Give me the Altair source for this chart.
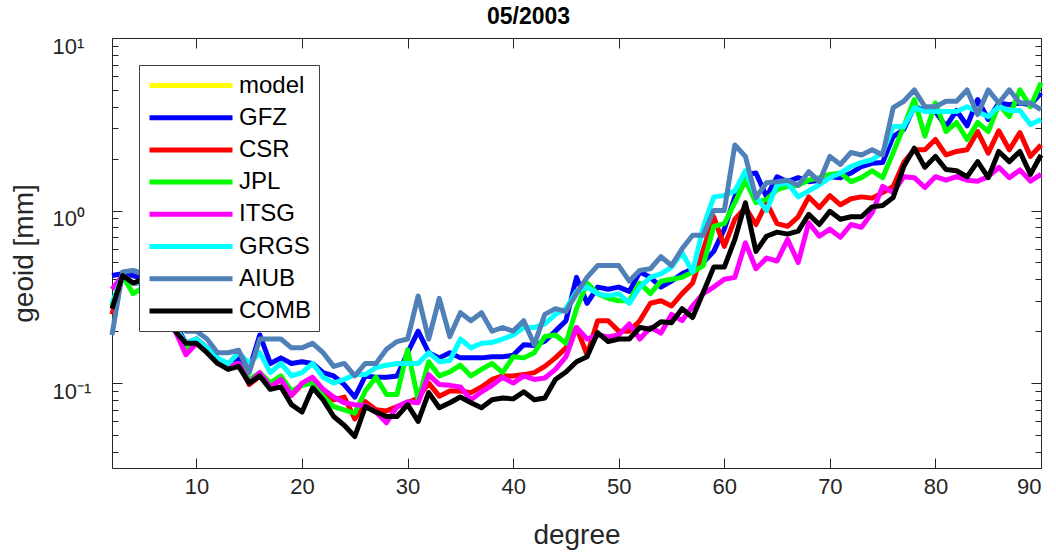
import altair as alt
import pandas as pd

degrees = list(range(2, 91))

gfz = [0.42, 0.43, 0.42, 0.40, 0.37, 0.30, 0.22, 0.17, 0.18, 0.16, 0.135, 0.13, 0.14, 0.12, 0.19, 0.13, 0.14, 0.13,
       0.133, 0.13, 0.115, 0.11, 0.098, 0.083, 0.11, 0.108, 0.108, 0.11, 0.15, 0.2, 0.15, 0.14, 0.15, 0.14, 0.14, 0.14,
       0.142, 0.142, 0.145, 0.167, 0.165, 0.175, 0.2, 0.23, 0.41, 0.29, 0.36, 0.35, 0.36, 0.34, 0.44, 0.41, 0.36, 0.39,
       0.43, 0.46, 0.5, 0.58, 0.78, 1.2, 1.62, 1.65, 1.2, 1.57, 1.47, 1.55, 1.47, 1.5, 1.57, 1.55, 1.65, 1.8, 1.88, 1.9,
       2.68, 2.95, 4.0, 3.8, 3.75, 3.07, 3.8, 3.1, 4.4, 3.37, 4.2, 4.1, 4.2, 4.1, 4.8]

csr = [0.25, 0.42, 0.38, 0.38, 0.36, 0.30, 0.21, 0.16, 0.18, 0.16, 0.135, 0.125, 0.13, 0.098, 0.11, 0.095, 0.105, 0.085,
       0.098, 0.1, 0.088, 0.08, 0.083, 0.062, 0.078, 0.07, 0.069, 0.073, 0.077, 0.082, 0.1, 0.084, 0.09, 0.09, 0.088, 0.095,
       0.105, 0.11, 0.11, 0.112, 0.115, 0.125, 0.14, 0.16, 0.21, 0.146, 0.23, 0.23, 0.2, 0.2, 0.23, 0.29, 0.3, 0.28,
       0.33, 0.38, 0.59, 0.92, 0.62, 0.89, 1.04, 0.83, 1.11, 0.84, 0.81, 0.92, 1.2, 1.04, 1.22, 1.08, 1.17, 1.2, 1.18, 1.27,
       1.38, 1.9, 2.25, 2.25, 2.58, 2.1, 2.2, 2.25, 2.87, 2.15, 2.9, 2.25, 2.83, 2.06, 2.4]

jpl = [0.28, 0.42, 0.33, 0.36, 0.35, 0.30, 0.21, 0.16, 0.18, 0.155, 0.135, 0.125, 0.13, 0.105, 0.115, 0.1, 0.11, 0.09,
       0.097, 0.1, 0.084, 0.073, 0.07, 0.067, 0.09, 0.108, 0.086, 0.086, 0.156, 0.08, 0.133, 0.11, 0.116, 0.127, 0.11, 0.12,
       0.13, 0.115, 0.142, 0.14, 0.15, 0.186, 0.19, 0.17, 0.27, 0.38, 0.33, 0.31, 0.3, 0.3, 0.38, 0.33, 0.39, 0.4,
       0.41, 0.44, 0.48, 0.81, 0.84, 1.11, 1.5, 1.11, 1.16, 1.32, 1.38, 1.4, 1.5, 1.55, 1.62, 1.65, 1.47, 1.55, 1.7, 1.55,
       2.17, 3.07, 4.4, 2.7, 4.2, 2.87, 3.24, 2.58, 3.24, 2.87, 4.1, 3.5, 5.0, 4.0, 5.5]

itsg = [0.35, 0.42, 0.38, 0.38, 0.36, 0.30, 0.2, 0.146, 0.17, 0.16, 0.13, 0.125, 0.13, 0.1, 0.115, 0.095, 0.105, 0.085,
        0.1, 0.108, 0.092, 0.083, 0.077, 0.075, 0.074, 0.068, 0.059, 0.073, 0.078, 0.077, 0.112, 0.098, 0.097, 0.095, 0.08, 0.089,
        0.097, 0.108, 0.1, 0.11, 0.105, 0.107, 0.12, 0.142, 0.21, 0.18, 0.19, 0.185, 0.19, 0.22, 0.18, 0.21, 0.195, 0.25,
        0.23, 0.28, 0.33, 0.36, 0.4, 0.41, 0.65, 0.46, 0.53, 0.51, 0.68, 0.5, 0.85, 0.71, 0.78, 0.70, 0.83, 0.80, 0.97, 1.38,
        1.27, 1.57, 1.55, 1.36, 1.57, 1.5, 1.57, 1.5, 1.48, 1.57, 1.78, 1.55, 1.72, 1.48, 1.62]

grgs = [0.29, 0.42, 0.38, 0.38, 0.36, 0.30, 0.21, 0.17, 0.18, 0.16, 0.14, 0.13, 0.15, 0.13, 0.15, 0.115, 0.13, 0.11,
        0.115, 0.13, 0.108, 0.1, 0.105, 0.112, 0.112, 0.123, 0.127, 0.13, 0.13, 0.13, 0.15, 0.133, 0.135, 0.18, 0.16, 0.17,
        0.172, 0.18, 0.19, 0.21, 0.21, 0.22, 0.25, 0.27, 0.34, 0.36, 0.33, 0.32, 0.33, 0.29, 0.36, 0.41, 0.43, 0.47,
        0.57, 0.44, 0.8, 1.2, 1.22, 1.3, 1.7, 1.2, 1.0, 1.41, 1.44, 1.2, 1.3, 1.41, 1.55, 1.65, 1.8, 1.9, 1.97, 2.17,
        3.07, 3.07, 3.95, 3.75, 3.75, 3.75, 3.75, 4.0, 3.75, 3.5, 4.0, 3.8, 3.8, 3.15, 3.37]

aiub = [0.19, 0.44, 0.45, 0.43, 0.40, 0.33, 0.23, 0.2, 0.2, 0.18, 0.15, 0.15, 0.155, 0.115, 0.18, 0.18, 0.18, 0.16,
        0.16, 0.17, 0.15, 0.125, 0.13, 0.11, 0.13, 0.13, 0.157, 0.174, 0.18, 0.32, 0.18, 0.31, 0.186, 0.256, 0.23, 0.256,
        0.2, 0.21, 0.2, 0.23, 0.167, 0.25, 0.27, 0.26, 0.33, 0.41, 0.48, 0.48, 0.48, 0.39, 0.45, 0.46, 0.54, 0.48,
        0.6, 0.72, 0.72, 1.0, 1.0, 2.4, 2.06, 1.19, 1.45, 1.47, 1.5, 1.4, 1.68, 1.47, 2.06, 1.85, 2.17, 2.1, 2.25, 2.1,
        3.95, 4.3, 5.0, 4.0, 4.0, 4.3, 4.3, 5.0, 3.6, 5.0, 4.2, 5.0, 4.2, 4.2, 3.85]

comb = [0.27, 0.42, 0.38, 0.40, 0.36, 0.30, 0.2, 0.17, 0.17, 0.15, 0.13, 0.12, 0.125, 0.1, 0.11, 0.092, 0.095, 0.075,
        0.068, 0.094, 0.08, 0.064, 0.057, 0.049, 0.073, 0.068, 0.064, 0.064, 0.075, 0.06, 0.088, 0.072, 0.077, 0.083, 0.077, 0.072,
        0.08, 0.082, 0.081, 0.089, 0.08, 0.082, 0.105, 0.116, 0.133, 0.142, 0.196, 0.174, 0.18, 0.18, 0.21, 0.205, 0.227, 0.224,
        0.27, 0.24, 0.335, 0.47, 0.47, 0.68, 1.11, 0.58, 0.71, 0.75, 0.73, 0.76, 0.95, 0.83, 0.99, 0.89, 0.92, 0.92, 1.05, 1.07,
        1.19, 1.8, 2.3, 1.78, 2.06, 1.73, 1.7, 1.57, 1.92, 1.55, 2.2, 1.92, 2.2, 1.62, 2.1]

series_names = ["model", "GFZ", "CSR", "JPL", "ITSG", "GRGS", "AIUB", "COMB"]
series_colors = ["#ffff00", "#0000ff", "#ff0000", "#00ff00", "#ff00ff", "#00ffff", "#5080b8", "#000000"]
series_values = [("GFZ", gfz), ("CSR", csr), ("JPL", jpl), ("ITSG", itsg),
                 ("GRGS", grgs), ("AIUB", aiub), ("COMB", comb)]

x_major = [10, 20, 30, 40, 50, 60, 70, 80, 90]
y_major = [0.1, 1, 10]
y_minor = [0.04, 0.05, 0.06, 0.07, 0.08, 0.09, 0.2, 0.3, 0.4, 0.5, 0.6, 0.7, 0.8, 0.9,
           2, 3, 4, 5, 6, 7, 8, 9]

rows = []
for name, vals in series_values:
    assert len(vals) == len(degrees), name
    for d, v in zip(degrees, vals):
        rows.append({"degree": d, "value": v, "series": name})
df = pd.DataFrame(rows)

FONT = "Liberation Sans, Arial, Helvetica, sans-serif"
TXT = "#262626"
W, H = 929, 430

xscale = alt.Scale(domain=[2, 90], nice=False, zero=False)
yscale = alt.Scale(type="log", domain=[0.0322, 10], nice=False)

base = alt.Chart(df)

lines = base.mark_line(strokeWidth=5, strokeJoin="round", strokeCap="butt").encode(
    x=alt.X("degree:Q", scale=xscale,
            axis=alt.Axis(orient="bottom", values=x_major, tickSize=10, offset=-10, domain=False,
                          grid=False, tickColor=TXT, labelColor=TXT, labelFont=FONT, labelFontSize=22,
                          labelPadding=8, title="degree", titleFont=FONT, titleFontSize=28,
                          titleFontWeight="normal", titleColor=TXT, titlePadding=24)),
    y=alt.Y("value:Q", scale=yscale,
            axis=alt.Axis(orient="left", values=y_major, tickSize=10, offset=-10, domain=False,
                          grid=False, tickColor=TXT, labelColor=TXT, labelFont=FONT, labelFontSize=22,
                          labelAlign="left", labelBaseline="middle", labelPadding=60, labelOffset=8,
                          labelExpr="datum.value >= 5 ? '10¹' : (datum.value >= 0.5 ? '10⁰' : '10⁻¹')",
                          title="geoid [mm]", titleFont=FONT, titleFontSize=28, titleFontWeight="normal",
                          titleColor=TXT, titlePadding=14)),
    color=alt.Color("series:N",
                    scale=alt.Scale(domain=series_names, range=series_colors),
                    legend=alt.Legend(title=None, orient="none", legendX=27, legendY=27,
                                      symbolType="M-4.15,0H4.15", symbolSize=400, symbolStrokeWidth=5,
                                      symbolOffset=31.5, labelOffset=35.5, labelFont=FONT,
                                      labelFontSize=24, labelColor="#000000", rowPadding=7.2,
                                      padding=8, strokeColor="#404040", fillColor="#ffffff",
                                      cornerRadius=0, labelLimit=0)),
)

minor_left_top = base.mark_line(opacity=0).encode(
    x=alt.X("degree:Q", scale=xscale,
            axis=alt.Axis(orient="top", values=x_major, tickSize=10, offset=-10, domain=False, grid=False,
                          labels=False, tickColor=TXT, title="")),
    y=alt.Y("value:Q", scale=yscale,
            axis=alt.Axis(orient="left", values=y_minor, tickSize=6, offset=-6, domain=False, grid=False,
                          labels=False, tickColor=TXT, title="")),
)

major_right = base.mark_line(opacity=0).encode(
    x=alt.X("degree:Q", scale=xscale, axis=None),
    y=alt.Y("value:Q", scale=yscale,
            axis=alt.Axis(orient="right", values=y_major, tickSize=10, offset=-10, domain=False, grid=False,
                          labels=False, tickColor=TXT, title="")),
)

minor_right = base.mark_line(opacity=0).encode(
    x=alt.X("degree:Q", scale=xscale, axis=None),
    y=alt.Y("value:Q", scale=yscale,
            axis=alt.Axis(orient="right", values=y_minor, tickSize=6, offset=-6, domain=False, grid=False,
                          labels=False, tickColor=TXT, title="")),
)

chart = alt.layer(lines, minor_left_top, major_right, minor_right).resolve_scale(
    x="shared", y="shared"
).resolve_axis(
    x="independent", y="independent"
).properties(
    width=W, height=H,
    padding={"left": 112, "top": 38, "right": 15, "bottom": 88},
    autosize=alt.AutoSizeParams(type="none"),
    title=alt.TitleParams(text="05/2003", font=FONT, fontSize=23, fontWeight="bold", color="#000000",
                          anchor="middle", offset=6, dx=-48),
    background="#ffffff",
).configure_view(
    stroke=TXT, strokeWidth=1
)

chart.save("out.html", embed_options={"renderer": "svg", "actions": False})
